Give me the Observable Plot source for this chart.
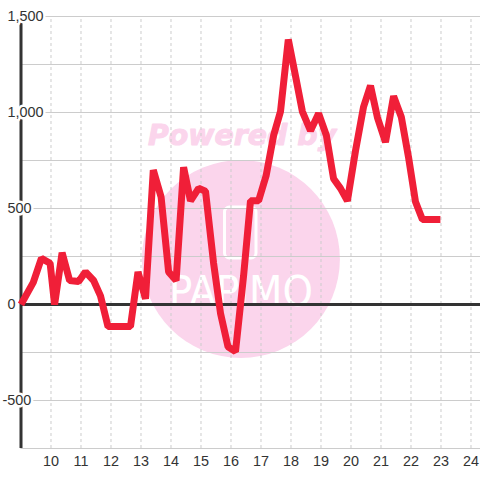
<!DOCTYPE html>
<html>
<head>
<meta charset="utf-8">
<style>
html,body{margin:0;padding:0;background:#fff;}
svg{display:block;}
</style>
<script src="https://cdn.jsdelivr.net/npm/d3@7"></script>
<script src="https://cdn.jsdelivr.net/npm/@observablehq/plot@0.6"></script>
</head>
<body>
<div id="chart"></div>
<script>
const hours = [9.00,9.41,9.68,9.97,10.12,10.37,10.62,10.92,11.15,11.42,11.65,11.90,12.15,12.40,12.65,12.90,13.15,13.41,13.67,13.92,14.17,14.42,14.65,14.92,15.15,15.42,15.65,15.90,16.15,16.42,16.65,16.92,17.17,17.42,17.65,17.91,18.15,18.38,18.65,18.92,19.18,19.42,19.65,19.88,20.15,20.42,20.65,20.88,21.15,21.42,21.68,21.92,22.15,22.38,22.68,22.98];
const values = [0,115,240,215,0,270,125,120,170,125,45,-115,-115,-115,-115,170,30,700,560,170,125,715,540,605,590,215,-45,-220,-245,150,540,540,670,880,1005,1380,1190,1005,905,995,880,655,605,540,800,1030,1140,975,845,1085,975,765,535,443,443,443];
const hourTicks = [10,11,12,13,14,15,16,17,18,19,20,21,22,23,24];
const gridValues = [-750,-500,-250,0,250,500,750,1000,1250,1500];
const mainLabels = [0,500,1000,1500];
const negLabels = [-500];
const badgeCentre = [{x:16.33,y:237}];
const badgeBox = [{x1:15.8,x2:16.85,y1:240,y2:505}];
const wordmarkTop = [{x:16.37,y:880,t:"Powered by"}];
const wordmarkLow = [{x:16.33,y:66,t:"PAPiMO"}];
const series = hours.map((h,i)=>({h,v:values[i]}));
const pink = "#fbd5ec", ink = "#333333", grid = "#cccccc", red = "#f01f38";
const fmt = d3.format(",");
const sans = "Liberation Sans, Arial, sans-serif";

const plot = Plot.plot({
  width:480, height:480,
  marginLeft:20.5, marginRight:0, marginTop:16, marginBottom:32,
  style:{background:"#fff", fontFamily:sans},
  x:{domain:[9,24.317], axis:null},
  y:{domain:[-750,1500], axis:null},
  marks:[
    Plot.dot(badgeCentre,{x:"x",y:"y",r:99,fill:pink,stroke:"none"}),
    Plot.rect(badgeBox,{x1:"x1",x2:"x2",y1:"y1",y2:"y2",fill:"none",stroke:"#fff",strokeWidth:3,rx:5}),
    Plot.text(wordmarkTop,{x:"x",y:"y",text:"t",fill:pink,stroke:pink,strokeWidth:1,fontSize:28.4,fontWeight:"bold",fontStyle:"italic",fontFamily:"DejaVu Sans"}),
    Plot.text(wordmarkLow,{x:"x",y:"y",text:"t",fill:"#fff",fontSize:43,fontFamily:"Liberation Sans Narrow, DejaVu Sans Condensed, sans-serif",letterSpacing:"0.13em"}),
    Plot.ruleY(gridValues,{stroke:grid,strokeWidth:1}),
    Plot.ruleX(hourTicks,{y1:-750,y2:1500,stroke:grid,strokeWidth:1,strokeDasharray:"3,3"}),
    Plot.ruleX([9],{y1:-750,y2:1500,stroke:ink,strokeWidth:3}),
    Plot.ruleY([0],{stroke:ink,strokeWidth:3}),
    Plot.text(mainLabels,{x:()=>9,y:d=>d,text:d=>fmt(d),textAnchor:"start",dx:-13.5,fill:ink,fontSize:14.4,fontFamily:sans,stroke:"#fff",strokeWidth:5,paintOrder:"stroke"}),
    Plot.text(negLabels,{x:()=>9,y:d=>d,text:d=>String(d),textAnchor:"start",dx:-18.5,fill:ink,fontSize:14.4,fontFamily:sans,stroke:"#fff",strokeWidth:5,paintOrder:"stroke"}),
    Plot.text(hourTicks,{x:d=>d,y:()=>-750,text:d=>String(d),dy:13,fill:ink,fontSize:14.4,fontFamily:sans}),
    Plot.line(series,{x:"h",y:"v",stroke:red,strokeWidth:7,strokeLinejoin:"bevel",strokeLinecap:"butt"})
  ]
});
document.getElementById("chart").appendChild(plot);
</script>
</body>
</html>
